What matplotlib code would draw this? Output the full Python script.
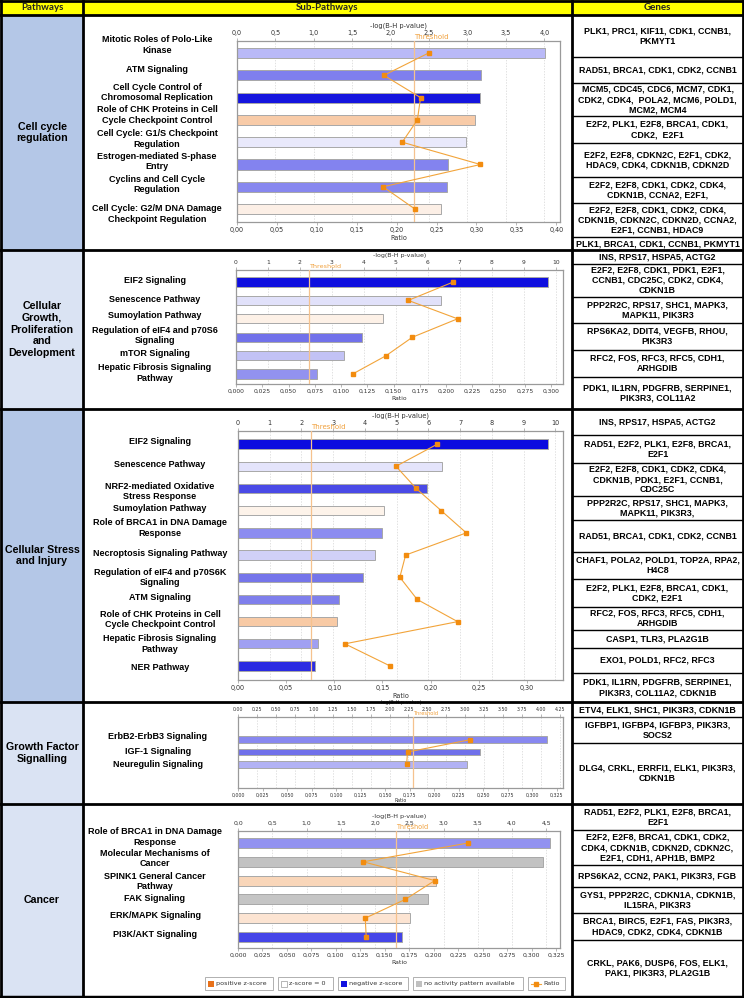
import matplotlib
matplotlib.use('Agg')
import matplotlib.pyplot as plt
import matplotlib.transforms as mtrans
from matplotlib.patches import Rectangle
from matplotlib.lines import Line2D
from matplotlib.ticker import FuncFormatter

# ---------------- DATA ----------------
headers = ["Pathways", "Sub-Pathways", "Genes"]
pathway_groups = ["Cell cycle\nregulation",
                  "Cellular\nGrowth,\nProliferation\nand\nDevelopment",
                  "Cellular Stress\nand Injury",
                  "Growth Factor\nSignalling",
                  "Cancer"]

p1_names = ["Mitotic Roles of Polo-Like\nKinase", "ATM Signaling",
            "Cell Cycle Control of\nChromosomal Replication",
            "Role of CHK Proteins in Cell\nCycle Checkpoint Control",
            "Cell Cycle: G1/S Checkpoint\nRegulation",
            "Estrogen-mediated S-phase\nEntry", "Cyclins and Cell Cycle\nRegulation",
            "Cell Cycle: G2/M DNA Damage\nCheckpoint Regulation"]
p1_logp = [4.01, 3.18, 3.17, 3.10, 2.98, 2.75, 2.73, 2.65]
p1_ratio = [0.240, 0.184, 0.230, 0.226, 0.207, 0.305, 0.183, 0.223]
p1_colors = ["#b9b9f7", "#7f7fee", "#1515de", "#f8cba8", "#e9e9fb", "#8383ef", "#8787ef", "#fcefe6"]
p1_top_ticks = [0.0, 0.5, 1.0, 1.5, 2.0, 2.5, 3.0, 3.5, 4.0]
p1_bot_ticks = [0.00, 0.05, 0.10, 0.15, 0.20, 0.25, 0.30, 0.35, 0.40]

p2_names = ["EIF2 Signaling", "Senescence Pathway", "Sumoylation Pathway",
            "Regulation of eIF4 and p70S6\nSignaling", "mTOR Signaling",
            "Hepatic Fibrosis Signaling\nPathway"]
p2_logp = [9.75, 6.41, 4.59, 3.93, 3.37, 2.52]
p2_ratio = [0.207, 0.164, 0.211, 0.168, 0.143, 0.111]
p2_colors = ["#0f0fdf", "#e1e1fa", "#fdf1e7", "#7171ea", "#c2c2f5", "#9292ef"]
p2_top_ticks = [0, 1, 2, 3, 4, 5, 6, 7, 8, 9, 10]
p2_bot_ticks = [0.000, 0.025, 0.050, 0.075, 0.100, 0.125, 0.150, 0.175, 0.200,
                0.225, 0.250, 0.275, 0.300]

p3_names = ["EIF2 Signaling", "Senescence Pathway",
            "NRF2-mediated Oxidative\nStress Response", "Sumoylation Pathway",
            "Role of BRCA1 in DNA Damage\nResponse", "Necroptosis Signaling Pathway",
            "Regulation of eIF4 and p70S6K\nSignaling", "ATM Signaling",
            "Role of CHK Proteins in Cell\nCycle Checkpoint Control",
            "Hepatic Fibrosis Signaling\nPathway", "NER Pathway"]
p3_logp = [9.76, 6.43, 5.96, 4.61, 4.55, 4.32, 3.94, 3.17, 3.12, 2.52, 2.44]
p3_ratio = [0.207, 0.164, 0.185, 0.211, 0.237, 0.174, 0.168, 0.186, 0.228, 0.111, 0.158]
p3_colors = ["#0b0bdf", "#e4e4fb", "#4a4ae6", "#fdf3ea", "#8c8cf0", "#d0d0f7",
             "#7575ea", "#7f7fec", "#f8caa5", "#a0a0f2", "#2b2be2"]
p3_top_ticks = [0, 1, 2, 3, 4, 5, 6, 7, 8, 9, 10]
p3_bot_ticks = [0.00, 0.05, 0.10, 0.15, 0.20, 0.25, 0.30]

p4_names = ["ErbB2-ErbB3 Signaling", "IGF-1 Signaling", "Neuregulin Signaling"]
p4_logp = [4.08, 3.19, 3.02]
p4_ratio = [0.237, 0.173, 0.172]
p4_colors = ["#8888f0", "#7070ea", "#b2b2f4"]
p4_top_ticks = [0.00, 0.25, 0.50, 0.75, 1.00, 1.25, 1.50, 1.75, 2.00, 2.25, 2.50,
                2.75, 3.00, 3.25, 3.50, 3.75, 4.00, 4.25]
p4_bot_ticks = [0.000, 0.025, 0.050, 0.075, 0.100, 0.125, 0.150, 0.175, 0.200,
                0.225, 0.250, 0.275, 0.300, 0.325]

p5_names = ["Role of BRCA1 in DNA Damage\nResponse", "Molecular Mechanisms of\nCancer",
            "SPINK1 General Cancer\nPathway", "FAK Signaling", "ERK/MAPK Signaling",
            "PI3K/AKT Signaling"]
p5_logp = [4.56, 4.45, 2.89, 2.77, 2.51, 2.40]
p5_ratio = [0.235, 0.128, 0.201, 0.171, 0.130, 0.131]
p5_colors = ["#9292f0", "#c2c2c2", "#f9d6b9", "#c5c5c5", "#fce4d2", "#4545e8"]
p5_top_ticks = [0.0, 0.5, 1.0, 1.5, 2.0, 2.5, 3.0, 3.5, 4.0, 4.5]
p5_bot_ticks = [0.000, 0.025, 0.050, 0.075, 0.100, 0.125, 0.150, 0.175, 0.200,
                0.225, 0.250, 0.275, 0.300, 0.325]

thresholds = [2.30, 2.29, 2.30, 2.31, 2.31]

genes_1 = ["PLK1, PRC1, KIF11, CDK1, CCNB1,\nPKMYT1",
           "RAD51, BRCA1, CDK1, CDK2, CCNB1",
           "MCM5, CDC45, CDC6, MCM7, CDK1,\nCDK2, CDK4,  POLA2, MCM6, POLD1,\nMCM2, MCM4",
           "E2F2, PLK1, E2F8, BRCA1, CDK1,\nCDK2,  E2F1",
           "E2F2, E2F8, CDKN2C, E2F1, CDK2,\nHDAC9, CDK4, CDKN1B, CDKN2D",
           "E2F2, E2F8, CDK1, CDK2, CDK4,\nCDKN1B, CCNA2, E2F1,",
           "E2F2, E2F8, CDK1, CDK2, CDK4,\nCDKN1B, CDKN2C, CDKN2D, CCNA2,\nE2F1, CCNB1, HDAC9",
           "PLK1, BRCA1, CDK1, CCNB1, PKMYT1"]
genes_2 = ["INS, RPS17, HSPA5, ACTG2",
           "E2F2, E2F8, CDK1, PDK1, E2F1,\nCCNB1, CDC25C, CDK2, CDK4,\nCDKN1B",
           "PPP2R2C, RPS17, SHC1, MAPK3,\nMAPK11, PIK3R3",
           "RPS6KA2, DDIT4, VEGFB, RHOU,\nPIK3R3",
           "RFC2, FOS, RFC3, RFC5, CDH1,\nARHGDIB",
           "PDK1, IL1RN, PDGFRB, SERPINE1,\nPIK3R3, COL11A2"]
genes_3 = ["INS, RPS17, HSPA5, ACTG2",
           "RAD51, E2F2, PLK1, E2F8, BRCA1,\nE2F1",
           "E2F2, E2F8, CDK1, CDK2, CDK4,\nCDKN1B, PDK1, E2F1, CCNB1,\nCDC25C",
           "PPP2R2C, RPS17, SHC1, MAPK3,\nMAPK11, PIK3R3,",
           "RAD51, BRCA1, CDK1, CDK2, CCNB1",
           "CHAF1, POLA2, POLD1, TOP2A, RPA2,\nH4C8",
           "E2F2, PLK1, E2F8, BRCA1, CDK1,\nCDK2, E2F1",
           "RFC2, FOS, RFC3, RFC5, CDH1,\nARHGDIB",
           "CASP1, TLR3, PLA2G1B",
           "EXO1, POLD1, RFC2, RFC3",
           "PDK1, IL1RN, PDGFRB, SERPINE1,\nPIK3R3, COL11A2, CDKN1B"]
genes_4 = ["ETV4, ELK1, SHC1, PIK3R3, CDKN1B",
           "IGFBP1, IGFBP4, IGFBP3, PIK3R3,\nSOCS2",
           "DLG4, CRKL, ERRFI1, ELK1, PIK3R3,\nCDKN1B"]
genes_5 = ["RAD51, E2F2, PLK1, E2F8, BRCA1,\nE2F1",
           "E2F2, E2F8, BRCA1, CDK1, CDK2,\nCDK4, CDKN1B, CDKN2D, CDKN2C,\nE2F1, CDH1, APH1B, BMP2",
           "RPS6KA2, CCN2, PAK1, PIK3R3, FGB",
           "GYS1, PPP2R2C, CDKN1A, CDKN1B,\nIL15RA, PIK3R3",
           "BRCA1, BIRC5, E2F1, FAS, PIK3R3,\nHDAC9, CDK2, CDK4, CDKN1B",
           "CRKL, PAK6, DUSP6, FOS, ELK1,\nPAK1, PIK3R3, PLA2G1B"]

legend_labels = ["positive z-score", "z-score = 0", "negative z-score",
                 "no activity pattern available", "Ratio"]

# ---------------- LAYOUT / STYLE ----------------
W, H = 744, 998
fig = plt.figure(figsize=(W / 100, H / 100), dpi=100)
fig.patch.set_facecolor('white')
BOLD = dict(family=['Liberation Sans', 'DejaVu Sans'], weight='bold')

def fx(x): return x / W
def fy(y): return 1 - y / H

def rect(x1, y1, x2, y2, fc, ec='none', lw=0, z=0):
    r = Rectangle((fx(x1), fy(y2)), (x2 - x1) / W, (y2 - y1) / H,
                  transform=fig.transFigure, facecolor=fc, edgecolor=ec, lw=lw, zorder=z)
    fig.add_artist(r)

def hline(y, x1, x2, lw=2.0, color='black'):
    fig.add_artist(Line2D([fx(x1), fx(x2)], [fy(y), fy(y)], transform=fig.transFigure,
                          color=color, lw=lw, zorder=5))

def vline(x, y1, y2, lw=2.0, color='black'):
    fig.add_artist(Line2D([fx(x), fx(x)], [fy(y1), fy(y2)], transform=fig.transFigure,
                          color=color, lw=lw, zorder=5))

COL = [1, 83, 572, 743]
ROWS = [15, 250, 409, 702, 804, 996]
row_fill = ["#b4c7e7", "#dae3f3", "#b4c7e7", "#dae3f3", "#dae3f3"]

# header
rect(0, 0, W, ROWS[0], '#ffff00')
for i, h in enumerate(headers):
    fig.text(fx((COL[i] + COL[i + 1]) / 2), fy(ROWS[0] / 2 + 0.5), h, ha='center', va='center',
             fontsize=7, color='#222222', family=['Lato', 'DejaVu Sans'], weight='bold')

# pathway column
for i, name in enumerate(pathway_groups):
    rect(COL[0], ROWS[i], COL[1], ROWS[i + 1], row_fill[i])
    fig.text(fx((COL[0] + COL[1]) / 2), fy((ROWS[i] + ROWS[i + 1]) / 2), name,
             ha='center', va='center', fontsize=7.7, linespacing=1.22, **BOLD)

# genes column
gene_bounds = [[15, 57, 83, 116, 143, 177, 203, 237, 250],
               [250, 264, 297, 323, 350, 377, 409],
               [409, 435, 463, 496, 520, 552, 579, 607, 630, 648, 673, 702],
               [702, 717, 743, 804],
               [804, 830, 865, 887, 913, 940, 996]]
gene_lists = [genes_1, genes_2, genes_3, genes_4, genes_5]
for bnds, gl in zip(gene_bounds, gene_lists):
    for j, g in enumerate(gl):
        y1, y2 = bnds[j], bnds[j + 1]
        if j > 0:
            hline(y1, COL[2], COL[3], lw=1.0)
        fig.text(fx((COL[2] + COL[3]) / 2), fy((y1 + y2) / 2), g, ha='center', va='center',
                 fontsize=6.4, linespacing=1.2, **BOLD)

# grid lines
for y in [0.5] + ROWS[:-1]:
    hline(y, 0, W, lw=2.0)
hline(997, 0, W, lw=2.5)
for x in [1, COL[1], COL[2], 743]:
    vline(x, 0, H, lw=2.0)

# ---------------- CHARTS ----------------
def fmt(dec, comma=True):
    def f(v, p):
        s = f"{v:.{dec}f}"
        return s.replace('.', ',') if comma else s
    return FuncFormatter(f)

panels = [
    dict(names=p1_names, logp=p1_logp, ratio=p1_ratio, colors=p1_colors,
         tt=p1_top_ticks, bt=p1_bot_ticks, box=(237, 41, 560, 222),
         topmax=4.205, botmax=0.4047, m=(0.54, 0.58), bh=0.45,
         tfmt=fmt(1), bfmt=fmt(2), fs=4.7, lx=157, rpad=1.5,
         loff=[-8, -6, -5, -5, -3, -3, -2, 5]),
    dict(names=p2_names, logp=p2_logp, ratio=p2_ratio, colors=p2_colors,
         tt=p2_top_ticks, bt=p2_bot_ticks, box=(236, 270, 563, 384),
         topmax=10.23, botmax=0.3114, m=(0.65, 0.54), bh=0.5,
         tfmt=fmt(0), bfmt=fmt(3), fs=4.3, lx=155, rpad=1.5,
         loff=[-1, -1, -3, -2, -2, -1]),
    dict(names=p3_names, logp=p3_logp, ratio=p3_ratio, colors=p3_colors,
         tt=p3_top_ticks, bt=p3_bot_ticks, box=(238, 431, 563, 680),
         topmax=10.24, botmax=0.3374, m=(0.59, 0.63), bh=0.42,
         tfmt=fmt(0), bfmt=fmt(2), fs=4.7, lx=160, rpad=1.5,
         loff=[-3, -2, 3, -2, -5, -2, 0, -2, -2, 0, 1]),
    dict(names=p4_names, logp=p4_logp, ratio=p4_ratio, colors=p4_colors,
         tt=p4_top_ticks, bt=p4_bot_ticks, box=(238, 717, 563, 788),
         topmax=4.29, botmax=0.3316, m=(1.84, 1.92), bh=0.56,
         tfmt=fmt(2, comma=False), bfmt=fmt(3), fs=3.4, lx=158, rpad=0.3,
         loff=[-3, -1, 0]),
    dict(names=p5_names, logp=p5_logp, ratio=p5_ratio, colors=p5_colors,
         tt=p5_top_ticks, bt=p5_bot_ticks, box=(238, 831, 560, 948),
         topmax=4.70, botmax=0.329, m=(0.64, 0.59), bh=0.53,
         tfmt=fmt(1), bfmt=fmt(3), fs=4.4, lx=155, rpad=1.5,
         loff=[-6, -3, 1, -1, -3, -2]),
]

FRAME = '#9a9a9a'
ORANGE_LINE = '#f2a43a'
ORANGE_MK = '#f28c0f'
for k, P in enumerate(panels):
    l, t, r, b = P['box']
    ax = fig.add_axes([fx(l), fy(b), (r - l) / W, (b - t) / H])
    n = len(P['names'])
    ypos = list(range(n))
    ax.barh(ypos, P['logp'], height=P['bh'], color=P['colors'], edgecolor='#a8a8a8',
            lw=0.7, zorder=2)
    ax.set_xlim(0, P['topmax'])
    ax.set_ylim(n - 1 + P['m'][1], -P['m'][0])
    ax.set_yticks([])
    ax.set_axisbelow(True)
    for s in ax.spines.values():
        s.set_color(FRAME)
        s.set_linewidth(0.9)
    th = thresholds[k]
    ax.axvline(th, color='#f5c28e', lw=0.9, zorder=3)

    ax2 = ax.twiny()
    ax2.plot(P['ratio'], ypos, color=ORANGE_LINE, lw=0.8, marker='s', ms=3.2,
             mfc=ORANGE_MK, mec=ORANGE_MK, zorder=5)
    ax2.set_xlim(0, P['botmax'])
    ax2.xaxis.set_ticks_position('bottom')
    ax2.xaxis.set_label_position('bottom')
    ax2.set_xticks(P['bt'])
    ax2.xaxis.set_major_formatter(P['bfmt'])
    ax2.tick_params(axis='x', labelsize=P['fs'], length=2, width=0.5, color=FRAME, pad=1.5,
                    labelcolor='#333333')
    ax2.set_xlabel('Ratio', fontsize=P['fs'], labelpad=P['rpad'], color='#333333')
    for s in ax2.spines.values():
        s.set_visible(False)

    # top axis for -log p (set after twin creation)
    ax.xaxis.set_ticks_position('top')
    ax.xaxis.set_label_position('top')
    ax.set_xticks(P['tt'])
    ax.xaxis.set_major_formatter(P['tfmt'])
    ax.tick_params(axis='x', which='both', top=True, bottom=False, labeltop=True, labelbottom=False,
                   labelsize=P['fs'], length=2, width=0.5, color=FRAME, pad=1.5,
                   labelcolor='#333333')
    ax.set_xlabel('-log(B-H p-value)', fontsize=P['fs'] + 0.2, labelpad=2, color='#333333')
    ax.xaxis.grid(True, linestyle=(0, (2, 2)), color='#d4d4d4', lw=0.5)

    trans = mtrans.blended_transform_factory(ax.transData, ax.transAxes)
    ax2.text(th, 1.0, 'Threshold',
             transform=trans + mtrans.ScaledTranslation(0, 0.01, fig.dpi_scale_trans),
             ha='left', va='bottom', fontsize=P['fs'] + 0.3, color='#f0a03c', zorder=6,
             clip_on=False)

    # sub-pathway labels
    lt = mtrans.blended_transform_factory(fig.transFigure, ax.transData)
    for i, name in enumerate(P['names']):
        off = mtrans.ScaledTranslation(0, -P['loff'][i] / 100, fig.dpi_scale_trans)
        ax.text(fx(P['lx']), i, name, transform=lt + off, ha='center', va='center',
                fontsize=6.5, linespacing=1.2, clip_on=False, **BOLD)

# ---------------- LEGEND ----------------
leg_boxes = [(205, 273), (278, 333), (338, 408), (413, 523), (528, 565)]
leg_colors = ['#e8711a', 'white', '#1010e0', '#c0c0c0', None]
ly1, ly2 = 977, 990
for (x1, x2), lab, c in zip(leg_boxes, legend_labels, leg_colors):
    rect(x1, ly1, x2, ly2, 'white', ec='#b0b0b0', lw=0.7, z=3)
    cy = (ly1 + ly2) / 2
    if c is None:
        fig.add_artist(Line2D([fx(x1 + 3), fx(x1 + 13)], [fy(cy), fy(cy)], transform=fig.transFigure,
                              color=ORANGE_LINE, lw=0.8, zorder=4))
        fig.add_artist(Line2D([fx(x1 + 8)], [fy(cy)], transform=fig.transFigure, marker='s',
                              ms=3.2, mfc=ORANGE_MK, mec=ORANGE_MK, zorder=4))
        tx = x1 + 15
    else:
        rect(x1 + 3, cy - 3, x1 + 9, cy + 3, c, ec='#999999' if c == 'white' else 'none', lw=0.5, z=4)
        tx = x1 + 11
    fig.text(fx(tx), fy(cy), lab, ha='left', va='center', fontsize=4.6, color='#333333', zorder=4)

fig.savefig('out.png', dpi=100)
